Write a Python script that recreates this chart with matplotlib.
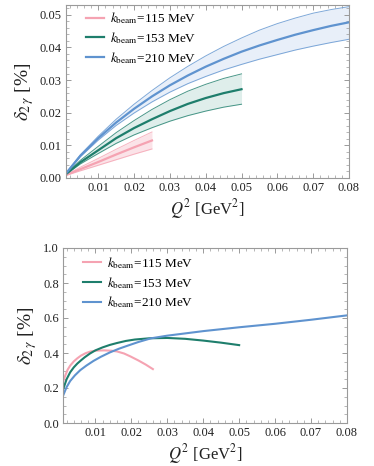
import numpy as np
import matplotlib
matplotlib.use("Agg")
import matplotlib.pyplot as plt
from matplotlib.ticker import MultipleLocator, FormatStrFormatter

plt.rcParams['font.family'] = ['Liberation Serif', 'DejaVu Serif']
plt.rcParams['mathtext.fontset'] = 'stix'

labels = [r'$k_{\rm beam}$=115 MeV', r'$k_{\rm beam}$=153 MeV', r'$k_{\rm beam}$=210 MeV']
colors = ['#F5A3B2', '#1E7E6C', '#5F93CF']
fills = ['#FBDDE3', '#D8EAE6', '#E3ECF8']

# top panel: central value and band (upper, lower)
q_115 = [0.001, 0.005, 0.01, 0.015, 0.02, 0.025]
c_115 = [0.0009, 0.0027, 0.0049, 0.0072, 0.0094, 0.0115]
u_115 = [0.0010, 0.0033, 0.0060, 0.0088, 0.0115, 0.0141]
l_115 = [0.0008, 0.0022, 0.0039, 0.0056, 0.0073, 0.0089]

q_153 = [0.001, 0.005, 0.01, 0.015, 0.02, 0.025, 0.03, 0.035, 0.04, 0.045, 0.05]
c_153 = [0.0012, 0.0048, 0.0085, 0.0122, 0.0153, 0.0180, 0.0205, 0.0227, 0.0245, 0.0260, 0.0272]
u_153 = [0.0013, 0.0054, 0.0097, 0.0139, 0.0176, 0.0210, 0.0240, 0.0266, 0.0287, 0.0305, 0.0319]
l_153 = [0.0011, 0.0043, 0.0075, 0.0106, 0.0132, 0.0154, 0.0174, 0.0191, 0.0205, 0.0217, 0.0226]

q_210 = [0.001, 0.005, 0.01, 0.015, 0.02, 0.025, 0.03, 0.035, 0.04, 0.045, 0.05, 0.055, 0.06, 0.065, 0.07, 0.075, 0.08]
c_210 = [0.0014, 0.0068, 0.0122, 0.0170, 0.0212, 0.0250, 0.0284, 0.0314, 0.0341, 0.0365, 0.0387, 0.0406, 0.0423, 0.0439, 0.0453, 0.0466, 0.0477]
u_210 = [0.0015, 0.0071, 0.0128, 0.0180, 0.0226, 0.0268, 0.0307, 0.0342, 0.0374, 0.0403, 0.0429, 0.0453, 0.0473, 0.0490, 0.0505, 0.0516, 0.0525]
l_210 = [0.0013, 0.0065, 0.0116, 0.0161, 0.0199, 0.0233, 0.0263, 0.0289, 0.0311, 0.0331, 0.0348, 0.0364, 0.0378, 0.0392, 0.0404, 0.0415, 0.0425]

# bottom panel: relative correction curves
r_q115 = [0.001, 0.0017, 0.0023, 0.003, 0.004, 0.005, 0.006, 0.0073, 0.0087, 0.0105, 0.0125, 0.0145, 0.016, 0.018, 0.0198, 0.022, 0.024, 0.026]
r_v115 = [0.235, 0.275, 0.305, 0.328, 0.352, 0.37, 0.385, 0.399, 0.409, 0.414, 0.415, 0.413, 0.409, 0.397, 0.38, 0.357, 0.334, 0.308]
r_q153 = [0.001, 0.002, 0.003, 0.004, 0.005, 0.006, 0.007, 0.0085, 0.010, 0.012, 0.014, 0.016, 0.0185, 0.021, 0.025, 0.030, 0.035, 0.040, 0.045, 0.050]
r_v153 = [0.19, 0.25, 0.29, 0.318, 0.34, 0.358, 0.375, 0.397, 0.415, 0.432, 0.446, 0.457, 0.469, 0.477, 0.484, 0.486, 0.481, 0.471, 0.459, 0.445]
r_q210 = [0.001, 0.002, 0.003, 0.0043, 0.0058, 0.0075, 0.0095, 0.0115, 0.014, 0.0165, 0.019, 0.022, 0.0255, 0.030, 0.035, 0.040, 0.050, 0.060, 0.070, 0.080]
r_v210 = [0.155, 0.205, 0.24, 0.272, 0.302, 0.328, 0.355, 0.378, 0.403, 0.424, 0.442, 0.463, 0.484, 0.499, 0.512, 0.525, 0.547, 0.567, 0.59, 0.615]

fig = plt.figure(figsize=(3.74, 4.66), dpi=100)
ax1 = fig.add_axes([66/374, 1 - 178/466, (349 - 66)/374, (178 - 5)/466])
ax2 = fig.add_axes([63/374, 1 - 423/466, (347 - 63)/374, (423 - 248)/466])

frame_col = '#9a9a9a'

def style(ax, ymaj, ymin):
    for s in ax.spines.values():
        s.set_color(frame_col)
        s.set_linewidth(0.8)
    ax.xaxis.set_major_locator(MultipleLocator(0.01))
    ax.xaxis.set_minor_locator(MultipleLocator(0.002))
    ax.yaxis.set_major_locator(MultipleLocator(ymaj))
    ax.yaxis.set_minor_locator(MultipleLocator(ymin))
    ax.tick_params(which='both', direction='in', top=True, right=True, color=frame_col,
                   labelsize=9, labelcolor='#222222', pad=3)
    ax.tick_params(which='major', length=3.5, width=0.7)
    ax.tick_params(which='minor', length=2, width=0.5)
    ax.set_xlabel(r'$Q^2$ [GeV$^2$]', fontsize=12, color='#222222', labelpad=2)
    ax.set_ylabel(r'$\delta_{2\,\gamma}$ [%]', fontsize=14, color='#222222', labelpad=3)

series = [(q_115, c_115, u_115, l_115), (q_153, c_153, u_153, l_153), (q_210, c_210, u_210, l_210)]
for (q, c, u, l), col, fc, lab in zip(series, colors, fills, labels):
    ax1.fill_between(q, l, u, color=fc, alpha=0.8, lw=0)
    ax1.plot(q, u, color=col, lw=0.7, alpha=0.8)
    ax1.plot(q, l, color=col, lw=0.7, alpha=0.8)
    ax1.plot(q, c, color=col, lw=1.6, label=lab)
ax1.set_xlim(0.001, 0.08)
ax1.set_ylim(0.0, 0.053)
ax1.yaxis.set_major_formatter(FormatStrFormatter('%.2f'))
style(ax1, 0.01, 0.002)
ax1.set_xticks([0.01, 0.02, 0.03, 0.04, 0.05, 0.06, 0.07, 0.08])
ax1.legend(loc='upper left', frameon=False, fontsize=9.5, handlelength=1.35,
           handletextpad=0.5, borderaxespad=0.0, borderpad=0.0, labelspacing=0.3,
           bbox_to_anchor=(0.07, 0.97))

for q, v, col, lab in zip([r_q115, r_q153, r_q210], [r_v115, r_v153, r_v210], colors, labels):
    ax2.plot(q, v, color=col, lw=1.5, label=lab)
ax2.set_xlim(0.001, 0.08)
ax2.set_ylim(0.0, 1.0)
ax2.yaxis.set_major_formatter(FormatStrFormatter('%.1f'))
style(ax2, 0.2, 0.05)
ax2.set_xticks([0.01, 0.02, 0.03, 0.04, 0.05, 0.06, 0.07, 0.08])
ax2.legend(loc='upper left', frameon=False, fontsize=9.5, handlelength=1.35,
           handletextpad=0.5, borderaxespad=0.0, borderpad=0.0, labelspacing=0.3,
           bbox_to_anchor=(0.07, 0.96))

fig.savefig('out.png', dpi=100)
